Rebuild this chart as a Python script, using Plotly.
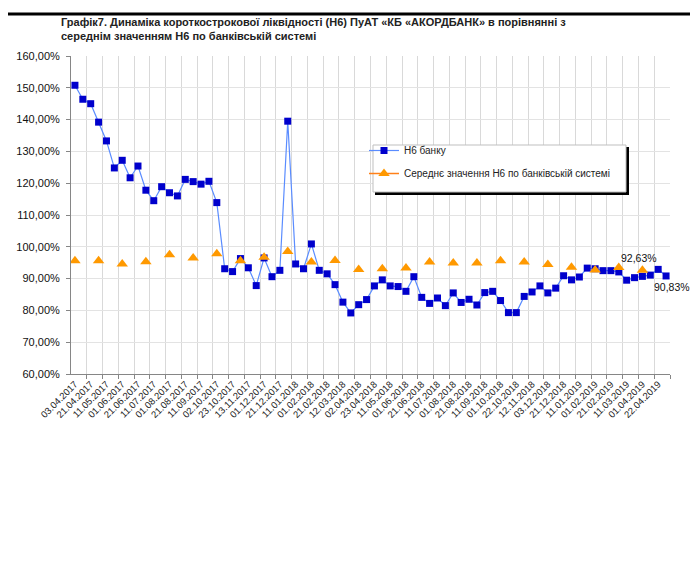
import plotly.graph_objects as go
import numpy as np

# --- Data ---
dates = [
    "03.04.2017", "11.04.2017", "21.04.2017", "02.05.2017", "11.05.2017", "22.05.2017",
    "01.06.2017", "12.06.2017", "21.06.2017", "03.07.2017", "11.07.2017", "21.07.2017",
    "01.08.2017", "11.08.2017", "21.08.2017", "01.09.2017", "11.09.2017", "21.09.2017",
    "02.10.2017", "11.10.2017", "23.10.2017", "01.11.2017", "13.11.2017", "21.11.2017",
    "01.12.2017", "11.12.2017", "21.12.2017", "02.01.2018", "11.01.2018", "22.01.2018",
    "01.02.2018", "12.02.2018", "21.02.2018", "01.03.2018", "12.03.2018", "21.03.2018",
    "02.04.2018", "11.04.2018", "23.04.2018", "02.05.2018", "11.05.2018", "21.05.2018",
    "01.06.2018", "11.06.2018", "21.06.2018", "02.07.2018", "11.07.2018", "23.07.2018",
    "01.08.2018", "13.08.2018", "21.08.2018", "03.09.2018", "11.09.2018", "21.09.2018",
    "01.10.2018", "11.10.2018", "22.10.2018", "01.11.2018", "12.11.2018", "21.11.2018",
    "03.12.2018", "11.12.2018", "21.12.2018", "02.01.2019", "11.01.2019", "21.01.2019",
    "01.02.2019", "11.02.2019", "21.02.2019", "01.03.2019", "11.03.2019", "21.03.2019",
    "01.04.2019", "11.04.2019", "22.04.2019", "02.05.2019",
]

# Н6 банку, %
bank_n6 = [
    150.8, 146.4, 145.0, 139.2, 133.3, 124.8, 127.2, 121.7, 125.4, 117.8,
    114.5, 118.9, 117.0, 116.0, 121.2, 120.5, 119.7, 120.6, 113.9, 93.1,
    92.2, 96.3, 93.4, 87.8, 96.5, 90.6, 92.6, 139.5, 94.6, 93.1,
    100.9, 92.6, 91.5, 88.1, 82.6, 79.2, 81.8, 83.4, 87.7, 89.6,
    87.7, 87.5, 86.0, 90.6, 84.1, 82.2, 83.9, 81.5, 85.5, 82.5,
    83.5, 81.7, 85.6, 86.0, 83.1, 79.3, 79.3, 84.4, 85.8, 87.7,
    85.5, 87.0, 90.9, 89.6, 90.5, 93.3, 93.1, 92.5, 92.5, 92.1,
    89.5, 90.3, 90.7, 91.1, 92.9, 90.83,
]

# середнє значення Н6 по системі (щомісяця), %
system_n6 = [
    95.6, None, None, 95.6, None, None, 94.6, None, None, 95.3,
    None, None, 97.5, None, None, 96.5, None, None, 97.8, None,
    None, 95.6, None, None, 96.7, None, None, 98.5, None, None,
    95.2, None, None, 95.7, None, None, 92.9, None, None, 93.1,
    None, None, 93.3, None, None, 95.2, None, None, 94.9, None,
    None, 94.9, None, None, 95.6, None, None, 95.2, None, None,
    94.4, None, None, 93.6, None, None, 92.7, None, None, 93.5,
    None, None, 92.63, None, None, None,
]

title_text = ("<b>Графік7. Динаміка короткострокової ліквідності (Н6) ПуАТ «КБ «АКОРДБАНК» в порівнянні з"
              "<br>середнім значенням Н6 по банківській системі</b>")
bank_name = "Н6 банку"
system_name = "Середнє значення Н6 по банківській системі"

x = np.arange(len(dates))

# plot area in pixels (for placing boxes / frame)
L, R, T, B = 63, 662, 48, 366
W, H = 698, 573


def px(xp):
    return (xp - L) / (R - L)


def py(yp):
    return (B - yp) / (B - T)


fig = go.Figure()

fig.add_trace(go.Scatter(
    x=x, y=bank_n6, name=bank_name, mode="lines+markers",
    line=dict(color="#5A8CFF", width=1.2),
    marker=dict(symbol="square", size=7, color="#0000CC"),
    legendgroup="a",
))
fig.add_trace(go.Scatter(
    x=x, y=system_n6, name=system_name, mode="lines+markers",
    line=dict(color="#FF8019", width=1.5),
    marker=dict(symbol="triangle-up", size=10, color="#FF9900"),
    connectgaps=False, legendgroup="b",
))

# value labels on the last points
last_sys = max(i for i, v in enumerate(system_n6) if v is not None)
fig.add_annotation(x=x[last_sys], y=system_n6[last_sys],
                   text=f"{system_n6[last_sys]:.2f}%".replace(".", ","),
                   showarrow=False, xshift=-3, yshift=12,
                   font=dict(family="Liberation Sans", size=10.5, color="#111"))
fig.add_annotation(x=x[-1], y=bank_n6[-1],
                   text=f"{bank_n6[-1]:.2f}%".replace(".", ","),
                   showarrow=False, xshift=6, yshift=-11,
                   font=dict(family="Liberation Sans", size=10.5, color="#111"))

# legend box with shadow, frame lines
shapes = [
    dict(type="rect", xref="paper", yref="paper", layer="above",
         x0=px(367), x1=px(621), y0=py(187), y1=py(139),
         fillcolor="black", line=dict(width=0)),
    dict(type="rect", xref="paper", yref="paper", layer="above",
         x0=px(365), x1=px(618), y0=py(184), y1=py(137),
         fillcolor="white", line=dict(color="#BFBFBF", width=1)),
    dict(type="line", xref="paper", yref="paper",
         x0=px(0), x1=px(698), y0=py(6), y1=py(6),
         line=dict(color="black", width=3)),
    dict(type="line", xref="paper", yref="paper",
         x0=px(696.5), x1=px(696.5), y0=py(0), y1=py(573),
         line=dict(color="black", width=3)),
]

fig.update_layout(
    width=W, height=H,
    margin=dict(l=L, r=W - R, t=T, b=H - B, autoexpand=False),
    paper_bgcolor="white", plot_bgcolor="white",
    separators=", ",
    font=dict(family="Liberation Sans", size=10, color="#111"),
    title=dict(text=title_text, x=53 / W, xanchor="left", xref="container",
               y=1 - 18 / H, yanchor="top", yref="container", pad=dict(l=0, t=0),
               font=dict(family="Liberation Sans", size=11, color="#222")),
    shapes=shapes,
    showlegend=True,
    legend=dict(x=px(356), y=py(128), xanchor="left", yanchor="top",
                bgcolor="rgba(0,0,0,0)", borderwidth=0, tracegroupgap=4,
                font=dict(family="Liberation Sans", size=10, color="#222")),
)

fig.update_xaxes(
    range=[-0.5, len(dates) - 0.5],
    tickmode="array", tickvals=x[::2], ticktext=dates[::2], tickangle=-45,
    ticks="", showgrid=False, zeroline=False,
    showline=True, linecolor="#868686", linewidth=1,
    tickfont=dict(family="Liberation Sans", size=9.5, color="#222"),
    minor=dict(tickmode="array", tickvals=x[1::2] + 0.5, ticks="outside", ticklen=4,
               tickcolor="#868686", showgrid=True, gridcolor="#D9D9D9", gridwidth=1),
)
fig.update_yaxes(
    range=[60, 160], dtick=10, tickformat=".2f", ticksuffix="%",
    ticks="outside", ticklen=4, tickcolor="#868686", ticklabelstandoff=4,
    showgrid=True, gridcolor="#E3E3E3", zeroline=False,
    showline=True, linecolor="#868686", linewidth=1,
    tickfont=dict(family="Liberation Sans", size=11, color="#111"),
)

fig.write_html("out.html")
